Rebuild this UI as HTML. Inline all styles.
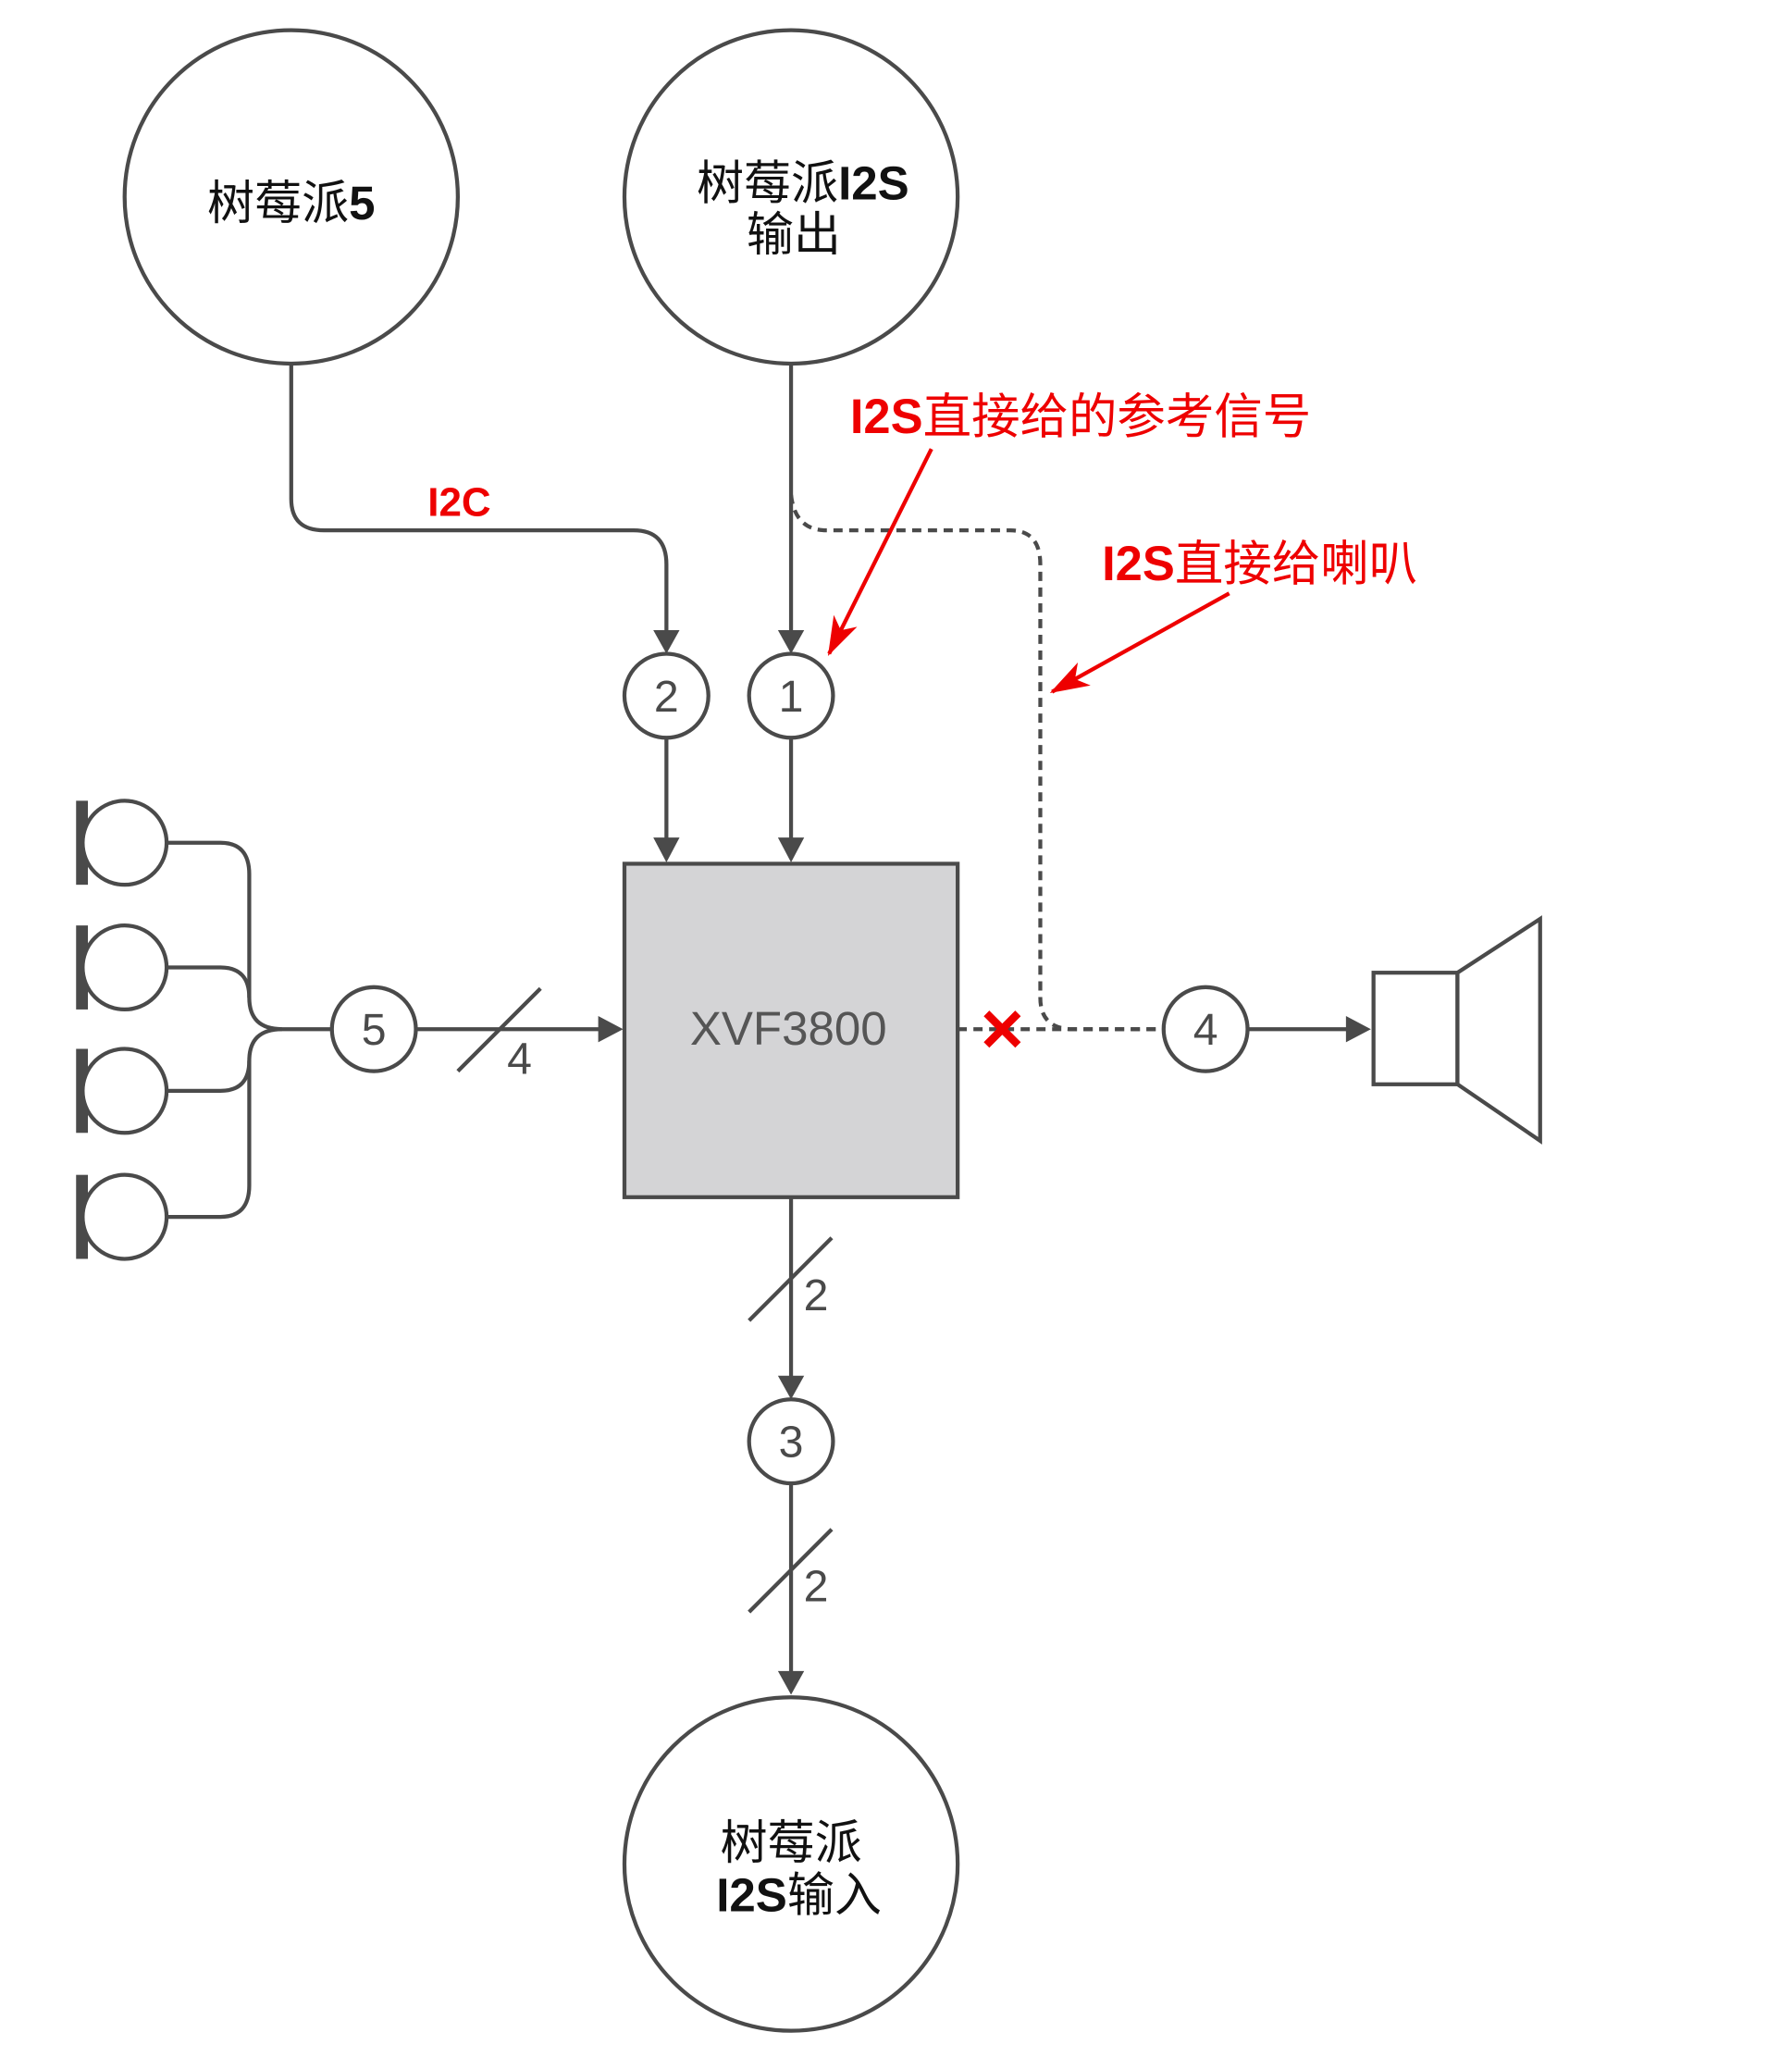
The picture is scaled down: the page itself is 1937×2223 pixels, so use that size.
<!DOCTYPE html>
<html><head><meta charset="utf-8"><style>html,body{margin:0;padding:0;background:#fff}svg{display:block}</style></head><body>
<svg width="1937" height="2223" viewBox="0 0 1366 1567" preserveAspectRatio="none" xmlns="http://www.w3.org/2000/svg" font-family="'Liberation Sans','Noto Sans CJK SC',sans-serif">
<defs>
<marker id="r" markerWidth="30" markerHeight="20" refX="28" refY="10" orient="auto" markerUnits="userSpaceOnUse"><path d="M0,0 L30,10 L0,20 L8,10 Z" fill="#e00"/></marker>
</defs>
<style>.l{stroke:#4a4a4a;stroke-width:3;fill:none}.c{stroke:#4a4a4a;stroke-width:3;fill:#fff}.b{font-weight:bold}</style>
<g class="l">
<path d="M222,277 V380 Q222,404 247,404 H483 Q508,404 508,430 V480"/>
<path d="M603,277 V480"/>
<path d="M603,377 Q606,404 630,404 H770 Q793,404 793,430 V760 Q793,784 818,784 H888" stroke-dasharray="7,5"/>
<path d="M730,784 H888" stroke-dasharray="7,5"/>
<path d="M508,562 V640"/><path d="M603,562 V640"/>
<path d="M317,784 H458"/>
<path d="M349,816 L412,753"/>
<path d="M951,784 H1028"/>
<path d="M603,912 V1050"/><path d="M571,1006 L634,943"/>
<path d="M603,1130 V1275"/><path d="M571,1228 L634,1165"/>
<path d="M127,642 H168 Q190,642 190,666 V760 Q190,784 215,784 H253"/>
<path d="M127,737 H168 Q190,737 190,760"/>
<path d="M127,831 H168 Q190,831 190,808"/>
<path d="M127,927 H168 Q190,927 190,903 V808 Q190,784 215,784"/>
</g>
<g fill="#4a4a4a">
<path d="M498,480 L518,480 L508,498 Z"/>
<path d="M593,480 L613,480 L603,498 Z"/>
<path d="M498,638 L518,638 L508,657 Z"/>
<path d="M593,638 L613,638 L603,657 Z"/>
<path d="M456,774 L456,794 L475,784 Z"/>
<path d="M1026,774 L1026,794 L1045,784 Z"/>
<path d="M593,1048 L613,1048 L603,1066 Z"/>
<path d="M593,1273 L613,1273 L603,1291 Z"/>
<rect x="58" y="610" width="9" height="64"/><rect x="58" y="705" width="9" height="64"/>
<rect x="58" y="799" width="9" height="64"/><rect x="58" y="895" width="9" height="64"/>
</g>
<g class="c">
<circle cx="222" cy="150" r="127"/><circle cx="603" cy="150" r="127"/><circle cx="603" cy="1420" r="127"/>
<circle cx="508" cy="530" r="32"/><circle cx="603" cy="530" r="32"/><circle cx="285" cy="784" r="32"/>
<circle cx="919" cy="784" r="32"/><circle cx="603" cy="1098" r="32"/>
<circle cx="95" cy="642" r="32"/><circle cx="95" cy="737" r="32"/><circle cx="95" cy="831" r="32"/><circle cx="95" cy="927" r="32"/>
<rect x="476" y="658" width="254" height="254" fill="#d4d4d6"/>
<rect x="1047" y="741" width="64" height="85"/>
<path d="M1111,741 L1174,700 L1174,869 L1111,826 Z"/>
</g>
<g fill="#4a4a4a" font-size="34" text-anchor="middle">
<text x="508" y="542">2</text><text x="603" y="542">1</text><text x="285" y="796">5</text>
<text x="919" y="796">4</text><text x="603" y="1110">3</text>
<text x="396" y="818">4</text><text x="622" y="998">2</text><text x="622" y="1220">2</text>
<text x="601" y="796" font-size="36" fill="#555">XVF3800</text>
</g>
<g fill="#111" font-size="36" text-anchor="middle">
<text x="222" y="167">树莓派<tspan class="b">5</tspan></text>
<text x="612" y="152">树莓派<tspan class="b">I2S</tspan></text><text x="605" y="191">输出</text>
<text x="603" y="1416">树莓派</text><text x="609" y="1456"><tspan class="b">I2S</tspan>输入</text>
</g>
<g fill="#e00" font-size="37">
<text x="326" y="393" class="b" font-size="31">I2C</text>
<text x="648" y="330"><tspan class="b">I2S</tspan>直接给的参考信号</text>
<text x="840" y="442"><tspan class="b">I2S</tspan>直接给喇叭</text>
</g>
<g stroke="#e00" stroke-width="3" fill="none">
<path d="M710,342 L632,498" marker-end="url(#r)"/>
<path d="M937,452 L802,527" marker-end="url(#r)"/>
</g>
<g stroke="#e00" stroke-width="6"><path d="M752,772 L776,796 M776,772 L752,796"/></g>
</svg>
</body></html>
